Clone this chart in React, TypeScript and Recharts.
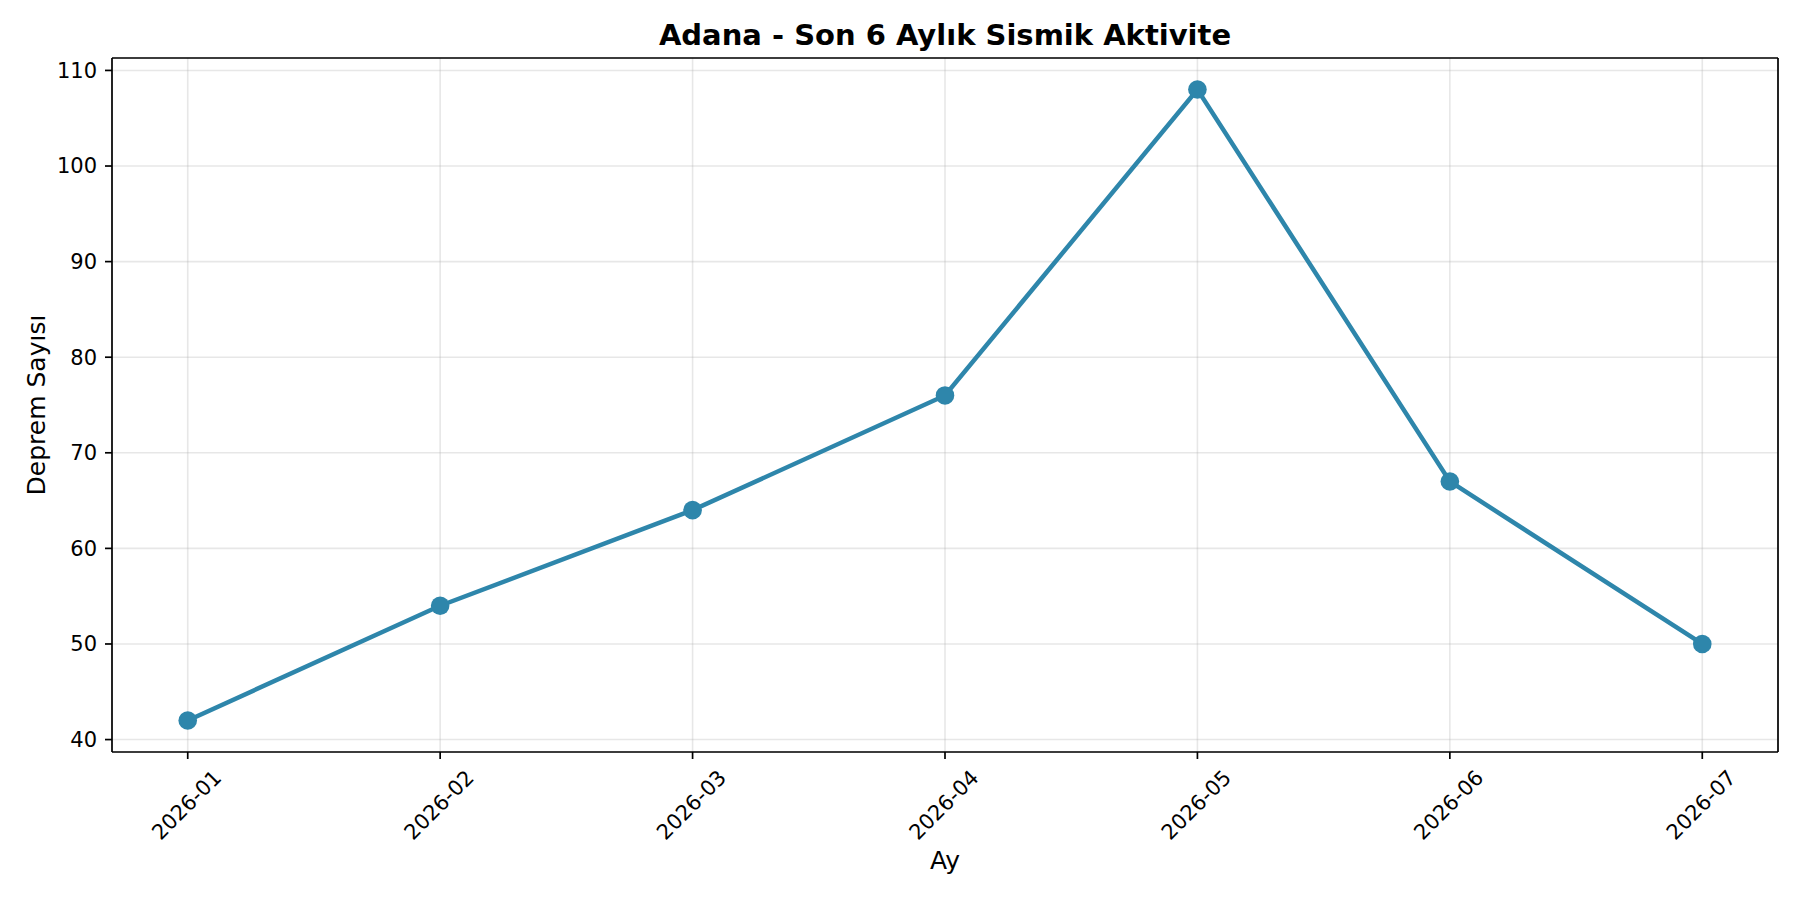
import React from "react";
import {
  LineChart,
  Line,
  XAxis,
  YAxis,
  CartesianGrid,
} from "recharts";

const months = [
  "2026-01",
  "2026-02",
  "2026-03",
  "2026-04",
  "2026-05",
  "2026-06",
  "2026-07",
];
const quakeCounts = [42, 54, 64, 76, 108, 67, 50];
const yTicks = [40, 50, 60, 70, 80, 90, 100, 110];
const xTicks = months.map((_, i) => i);

const FONT = "'DejaVu Sans', sans-serif";
const LINE_COLOR = "#2E86AB";

const chartData = months.map((m, i) => ({
  idx: i,
  month: m,
  count: quakeCounts[i],
}));

const MonthTick = (props: any) => {
  const { x, y, payload } = props;
  return (
    <g transform={`translate(${x - 1},${y + 46}) rotate(-45)`}>
      <text
        x={0}
        y={0}
        textAnchor="middle"
        dominantBaseline="central"
        fontSize={21}
        fontFamily={FONT}
        fill="#000"
      >
        {months[payload.value]}
      </text>
    </g>
  );
};

const App: React.FC = () => {
  return (
    <div
      style={{
        position: "absolute",
        left: 0,
        top: 0,
        width: 1800,
        height: 900,
        background: "#fff",
      }}
    >
      <LineChart
        width={1800}
        height={900}
        data={chartData}
        margin={{ top: 57, right: 21, bottom: 0, left: 0 }}
      >
        <CartesianGrid
          stroke="#b0b0b0"
          strokeOpacity={0.3}
          strokeWidth={1.6}
        />
        <XAxis
          dataKey="idx"
          type="number"
          domain={[-0.3, 6.3]}
          ticks={xTicks}
          allowDataOverflow
          height={148}
          tickSize={7}
          tickMargin={0}
          tick={<MonthTick />}
          tickLine={{ stroke: "#000", strokeWidth: 1.7 }}
          axisLine={{ stroke: "#000", strokeWidth: 1.7 }}
        />
        <XAxis
          xAxisId="top"
          orientation="top"
          dataKey="idx"
          type="number"
          domain={[-0.3, 6.3]}
          allowDataOverflow
          height={1}
          tick={false}
          tickLine={false}
          axisLine={{ stroke: "#000", strokeWidth: 1.7 }}
        />
        <YAxis
          type="number"
          domain={[38.7, 111.3]}
          ticks={yTicks}
          allowDataOverflow
          width={112}
          tickSize={7}
          tickMargin={8}
          tick={{ fontSize: 21, fontFamily: FONT, fill: "#000" }}
          tickLine={{ stroke: "#000", strokeWidth: 1.7 }}
          axisLine={{ stroke: "#000", strokeWidth: 1.7 }}
        />
        <YAxis
          yAxisId="right"
          orientation="right"
          type="number"
          domain={[38.7, 111.3]}
          allowDataOverflow
          width={1}
          tick={false}
          tickLine={false}
          axisLine={{ stroke: "#000", strokeWidth: 1.7 }}
        />
        <Line
          type="linear"
          dataKey="count"
          stroke={LINE_COLOR}
          strokeWidth={4.5}
          dot={{ r: 9.3, fill: LINE_COLOR, stroke: LINE_COLOR, strokeWidth: 0 }}
          activeDot={false}
          isAnimationActive={false}
        />
      </LineChart>
      <svg
        width={1800}
        height={900}
        style={{ position: "absolute", left: 0, top: 0, pointerEvents: "none" }}
      >
        <text
          x={945}
          y={45}
          textAnchor="middle"
          fontSize={29}
          fontWeight="bold"
          fontFamily={FONT}
          fill="#000"
        >
          Adana - Son 6 Aylık Sismik Aktivite
        </text>
        <text
          x={945}
          y={869}
          textAnchor="middle"
          fontSize={25}
          fontFamily={FONT}
          fill="#000"
        >
          Ay
        </text>
        <text
          transform="translate(36,405) rotate(-90)"
          textAnchor="middle"
          dominantBaseline="central"
          fontSize={25}
          fontFamily={FONT}
          fill="#000"
        >
          Deprem Sayısı
        </text>
      </svg>
    </div>
  );
};

export default App;
